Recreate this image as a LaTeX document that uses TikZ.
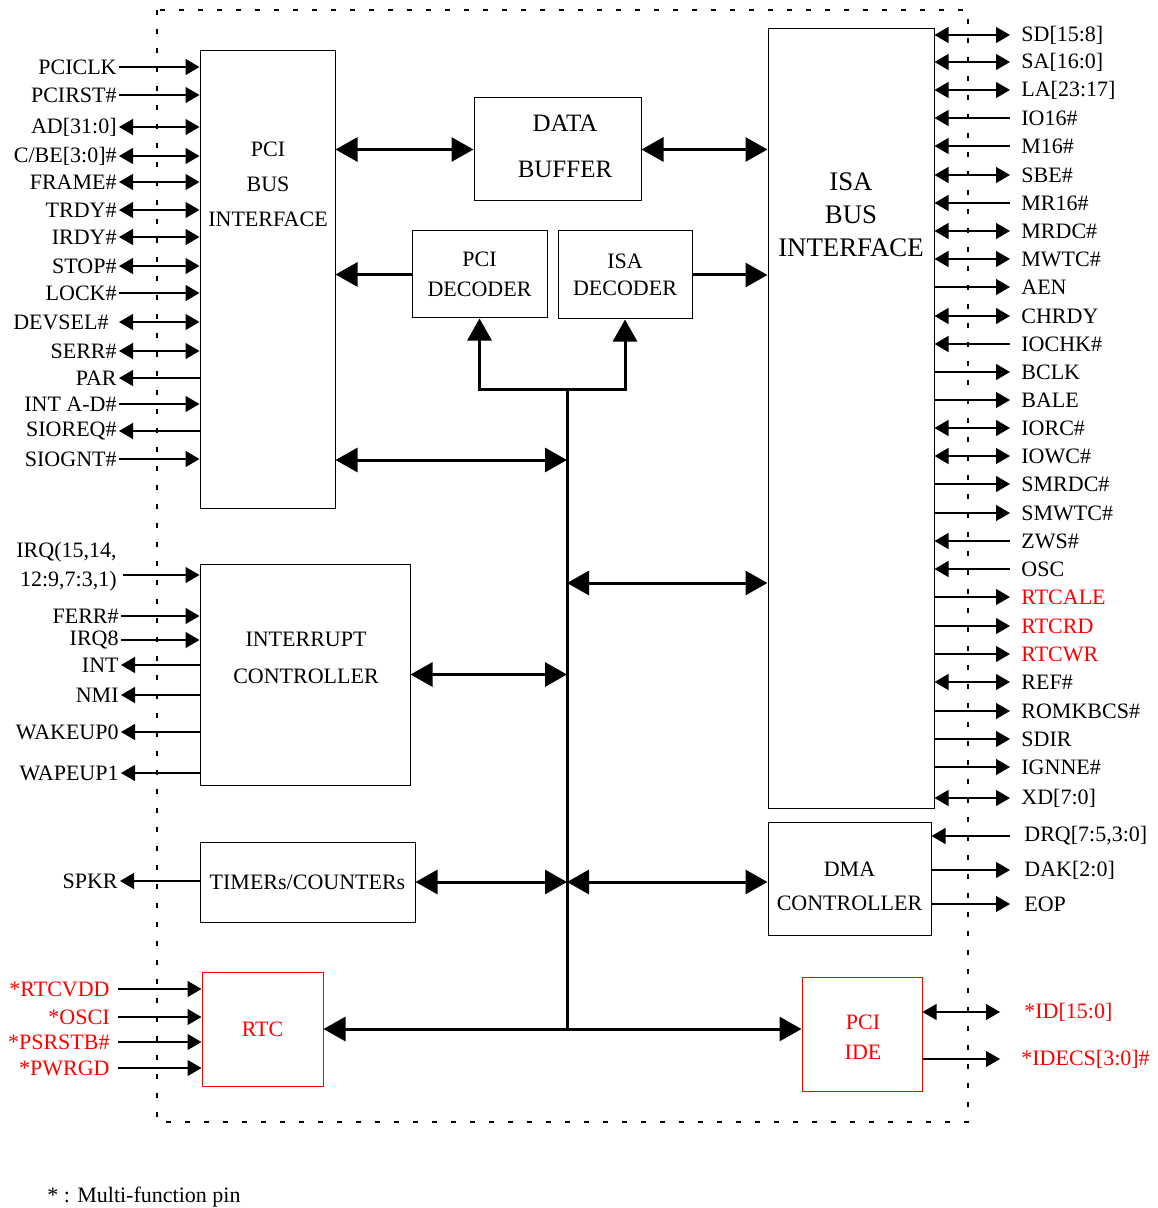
\documentclass[tikz,border=0pt]{standalone}
\usepackage{fontspec}
\setmainfont{Liberation Serif}
\usetikzlibrary{arrows.meta}

\tikzset{
  blk/.style={draw, line width=0.5pt, inner sep=0pt, align=center, font=\fontsize{11}{15}\selectfont},
  redblk/.style={blk, draw=red, text=red},
  lpin/.style={anchor=east, inner sep=1pt, font=\fontsize{11}{13}\selectfont},
  rpin/.style={anchor=west, inner sep=1pt, font=\fontsize{11}{13}\selectfont},
  pinwire/.style={line width=0.6pt},
  pto/.style={pinwire, -{Triangle[length=7pt,width=8pt]}},
  pfrom/.style={pinwire, {Triangle[length=7pt,width=8pt]}-},
  pboth/.style={pinwire, {Triangle[length=7pt,width=8pt]}-{Triangle[length=7pt,width=8pt]}},
  bus/.style={line width=1.5pt},
  busto/.style={bus, -{Triangle[length=11pt,width=12pt]}},
  busboth/.style={bus, {Triangle[length=11pt,width=12pt]}-{Triangle[length=11pt,width=12pt]}},
  border/.style={line width=0.6pt, dash pattern=on 2.5pt off 7pt}
}

\begin{document}
\begin{tikzpicture}
    [x=0.5pt, y=-0.5pt]
    \useasboundingbox (0,0) rectangle (1157,1208);
    % chip outline
    \draw[border] (157,10) rectangle (968,1122);
    % blocks
    \node[blk, minimum width=67.5pt, minimum height=228.5pt] (pci) at (267.5,279.5) {};
    \node[align=center, font=\fontsize{11}{17.5}\selectfont] (pcitxt) at (268,184) {PCI\\BUS\\INTERFACE};
    \node[blk, minimum width=83.5pt, minimum height=51.5pt] (buf) at (557.5,149.5) {};
    \node[align=center, font=\fontsize{12.5}{23}\selectfont] (buftxt) at (565,146) {DATA\\BUFFER};
    \node[blk, minimum width=67.5pt, minimum height=43.5pt] (pcidec) at (479.5,274.5) {PCI\\DECODER};
    \node[blk, minimum width=67pt, minimum height=44pt, font=\fontsize{11}{13.5}\selectfont] (isadec) at (625,275) {ISA\\DECODER};
    \node[blk, minimum width=83pt, minimum height=389.5pt] (isa) at (851,418.5) {};
    \node[align=center, font=\fontsize{13.4}{16.5}\selectfont] (isatxt) at (851,215) {ISA\\BUS\\INTERFACE};
    \node[blk, minimum width=105pt, minimum height=110.5pt] (intc) at (305,674.5) {};
    \node[align=center, font=\fontsize{11}{18.5}\selectfont] (intctxt) at (306,658) {INTERRUPT\\CONTROLLER};
    \node[blk, minimum width=107.5pt, minimum height=40pt] (tmr) at (307.5,882) {TIMERs/COUNTERs};
    \node[blk, minimum width=81.5pt, minimum height=56.5pt] (dma) at (849.5,878.5) {};
    \node[align=center, font=\fontsize{11}{17}\selectfont] (dmatxt) at (849.5,886) {DMA\\CONTROLLER};
    \node[redblk, minimum width=60.5pt, minimum height=57pt] (rtc) at (262.5,1029) {RTC};
    \node[redblk, minimum width=60pt, minimum height=57pt] (ide) at (862,1034) {};
    \node[align=center, text=red, font=\fontsize{11}{15}\selectfont] (idetxt) at (863,1037) {PCI\\IDE};
    % internal bus
    \coordinate (bustop) at (567,389);
    \coordinate (j1) at (567,460);
    \coordinate (j2) at (567,583);
    \draw[bus] (bustop) -- (bustop |- rtc.east);
    \draw[busto] (bustop) -| (pcidec.south);
    \draw[busto] (bustop) -| (isadec.south);
    \draw[busboth] (buf.west -| pci.east) -- (buf.west);
    \draw[busboth] (buf.east) -- (buf.east -| isa.west);
    \draw[busto] (pcidec.west) -- (pcidec.west -| pci.east);
    \draw[busto] (isadec.east) -- (isadec.east -| isa.west);
    \draw[busboth] (j1 -| pci.east) -- (j1);
    \draw[busboth] (j2) -- (j2 -| isa.west);
    \draw[busboth] (intc.east) -- (intc.east -| bustop);
    \draw[busboth] (tmr.east) -- (tmr.east -| bustop);
    \draw[busboth] (tmr.east -| bustop) -- (tmr.east -| dma.west);
    \draw[busboth] (rtc.east) -- (rtc.east -| ide.west);
    % PCI pins
    \node[lpin] (pciclk) at (119,67) {PCICLK}; \draw[pto] (pciclk) -- (pciclk -| pci.west);
    \node[lpin] (pcirst) at (119,95) {PCIRST\#}; \draw[pto] (pcirst) -- (pcirst -| pci.west);
    \node[lpin] (ad) at (119,127) {AD[31:0]}; \draw[pboth] (ad) -- (ad -| pci.west);
    \node[lpin] (cbe) at (119,156) {C/BE[3:0]\#}; \draw[pboth] (cbe) -- (cbe -| pci.west);
    \node[lpin] (frame) at (119,182) {FRAME\#}; \draw[pboth] (frame) -- (frame -| pci.west);
    \node[lpin] (trdy) at (119,210) {TRDY\#}; \draw[pboth] (trdy) -- (trdy -| pci.west);
    \node[lpin] (irdy) at (119,237) {IRDY\#}; \draw[pboth] (irdy) -- (irdy -| pci.west);
    \node[lpin] (stop) at (119,266) {STOP\#}; \draw[pboth] (stop) -- (stop -| pci.west);
    \node[lpin] (lock) at (119,293) {LOCK\#}; \draw[pto] (lock) -- (lock -| pci.west);
    \node[lpin] (devsel) at (111,322) {DEVSEL\#}; \draw[pboth] (devsel -| pciclk.east) -- (devsel -| pci.west);
    \node[lpin] (serr) at (119,351) {SERR\#}; \draw[pboth] (serr) -- (serr -| pci.west);
    \node[lpin] (par) at (119,378) {PAR}; \draw[pfrom] (par) -- (par -| pci.west);
    \node[lpin] (inta) at (119,404) {INT A-D\#}; \draw[pto] (inta) -- (inta -| pci.west);
    \node[lpin] (sioreq) at (119,431) {SIOREQ\#}; \draw[pfrom] (sioreq) -- (sioreq -| pci.west);
    \node[lpin] (siognt) at (119,459) {SIOGNT\#}; \draw[pto] (siognt) -- (siognt -| pci.west);
    % interrupt pins
    \node[lpin, align=right, font=\fontsize{11}{14.5}\selectfont] (irq) at (119,567) {IRQ(15,14,\\12:9,7:3,1)};
    \draw[pto] ([shift={(2pt,-4pt)}]irq.east) coordinate (irqa) -- (irqa -| intc.west);
    \node[lpin] (ferr) at (121,616) {FERR\#}; \draw[pto] (ferr) -- (ferr -| intc.west);
    \node[lpin] (irqe) at (121,640) {IRQ8}; \draw[pto] (irqe) -- (irqe -| intc.west);
    \node[lpin] (int) at (121,665) {INT}; \draw[pfrom] (int) -- (int -| intc.west);
    \node[lpin] (nmi) at (121,695) {NMI}; \draw[pfrom] (nmi) -- (nmi -| intc.west);
    \node[lpin] (wake0) at (121,732) {WAKEUP0}; \draw[pfrom] (wake0) -- (wake0 -| intc.west);
    \node[lpin] (wake1) at (121,773) {WAPEUP1}; \draw[pfrom] (wake1) -- (wake1 -| intc.west);
    \node[lpin] (spkr) at (120,881) {SPKR}; \draw[pfrom] (spkr) -- (spkr -| tmr.west);
    % RTC pins
    \node[lpin, text=red] (rtcvdd) at (112,989) {*RTCVDD}; \draw[pto] ([xshift=3pt]rtcvdd.east) -- (rtcvdd -| rtc.west);
    \node[lpin, text=red] (osci) at (112,1017) {*OSCI}; \draw[pto] ([xshift=3pt]osci.east) -- (osci -| rtc.west);
    \node[lpin, text=red] (psrstb) at (112,1042) {*PSRSTB\#}; \draw[pto] ([xshift=3pt]psrstb.east) -- (psrstb -| rtc.west);
    \node[lpin, text=red] (pwrgd) at (112,1068) {*PWRGD}; \draw[pto] ([xshift=3pt]pwrgd.east) -- (pwrgd -| rtc.west);
    % ISA pins
    \node[rpin] (sd) at (1019,35) {SD[15:8]}; \draw[pboth] (sd -| isa.east) -- ([xshift=-4.5pt]sd.west);
    \node[rpin] (sa) at (1019,62) {SA[16:0]}; \draw[pboth] (sa -| isa.east) -- ([xshift=-4.5pt]sa.west);
    \node[rpin] (la) at (1019,90) {LA[23:17]}; \draw[pboth] (la -| isa.east) -- ([xshift=-4.5pt]la.west);
    \node[rpin] (io16) at (1019,118) {IO16\#}; \draw[pfrom] (io16 -| isa.east) -- ([xshift=-4.5pt]io16.west);
    \node[rpin] (m16) at (1019,146) {M16\#}; \draw[pfrom] (m16 -| isa.east) -- ([xshift=-4.5pt]m16.west);
    \node[rpin] (sbe) at (1019,175) {SBE\#}; \draw[pboth] (sbe -| isa.east) -- ([xshift=-4.5pt]sbe.west);
    \node[rpin] (mr16) at (1019,203) {MR16\#}; \draw[pfrom] (mr16 -| isa.east) -- ([xshift=-4.5pt]mr16.west);
    \node[rpin] (mrdc) at (1019,231) {MRDC\#}; \draw[pboth] (mrdc -| isa.east) -- ([xshift=-4.5pt]mrdc.west);
    \node[rpin] (mwtc) at (1019,259) {MWTC\#}; \draw[pboth] (mwtc -| isa.east) -- ([xshift=-4.5pt]mwtc.west);
    \node[rpin] (aen) at (1019,287) {AEN}; \draw[pto] (aen -| isa.east) -- ([xshift=-4.5pt]aen.west);
    \node[rpin] (chrdy) at (1019,316) {CHRDY}; \draw[pboth] (chrdy -| isa.east) -- ([xshift=-4.5pt]chrdy.west);
    \node[rpin] (iochk) at (1019,344) {IOCHK\#}; \draw[pfrom] (iochk -| isa.east) -- ([xshift=-4.5pt]iochk.west);
    \node[rpin] (bclk) at (1019,372) {BCLK}; \draw[pto] (bclk -| isa.east) -- ([xshift=-4.5pt]bclk.west);
    \node[rpin] (bale) at (1019,400) {BALE}; \draw[pto] (bale -| isa.east) -- ([xshift=-4.5pt]bale.west);
    \node[rpin] (iorc) at (1019,428) {IORC\#}; \draw[pboth] (iorc -| isa.east) -- ([xshift=-4.5pt]iorc.west);
    \node[rpin] (iowc) at (1019,456) {IOWC\#}; \draw[pboth] (iowc -| isa.east) -- ([xshift=-4.5pt]iowc.west);
    \node[rpin] (smrdc) at (1019,484) {SMRDC\#}; \draw[pto] (smrdc -| isa.east) -- ([xshift=-4.5pt]smrdc.west);
    \node[rpin] (smwtc) at (1019,513) {SMWTC\#}; \draw[pto] (smwtc -| isa.east) -- ([xshift=-4.5pt]smwtc.west);
    \node[rpin] (zws) at (1019,541) {ZWS\#}; \draw[pfrom] (zws -| isa.east) -- ([xshift=-4.5pt]zws.west);
    \node[rpin] (osc) at (1019,569) {OSC}; \draw[pfrom] (osc -| isa.east) -- ([xshift=-4.5pt]osc.west);
    \node[rpin, text=red] (rtcale) at (1019,597) {RTCALE}; \draw[pto] (rtcale -| isa.east) -- ([xshift=-4.5pt]rtcale.west);
    \node[rpin, text=red] (rtcrd) at (1019,626) {RTCRD}; \draw[pto] (rtcrd -| isa.east) -- ([xshift=-4.5pt]rtcrd.west);
    \node[rpin, text=red] (rtcwr) at (1019,654) {RTCWR}; \draw[pto] (rtcwr -| isa.east) -- ([xshift=-4.5pt]rtcwr.west);
    \node[rpin] (ref) at (1019,682) {REF\#}; \draw[pboth] (ref -| isa.east) -- ([xshift=-4.5pt]ref.west);
    \node[rpin] (romkb) at (1019,711) {ROMKBCS\#}; \draw[pto] (romkb -| isa.east) -- ([xshift=-4.5pt]romkb.west);
    \node[rpin] (sdir) at (1019,739) {SDIR}; \draw[pto] (sdir -| isa.east) -- ([xshift=-4.5pt]sdir.west);
    \node[rpin] (ignne) at (1019,767) {IGNNE\#}; \draw[pto] (ignne -| isa.east) -- ([xshift=-4.5pt]ignne.west);
    \node[rpin] (xd) at (1019,798) {XD[7:0]}; \draw[pboth] (xd -| isa.east) -- ([xshift=-4.5pt]xd.west);
    % DMA pins
    \node[rpin] (drq) at (1022,836) {DRQ[7:5,3:0]}; \draw[pfrom] (drq -| dma.east) -- ([xshift=-6pt]drq.west);
    \node[rpin] (dak) at (1022,870) {DAK[2:0]}; \draw[pto] (dak -| dma.east) -- ([xshift=-6pt]dak.west);
    \node[rpin] (eop) at (1022,904) {EOP}; \draw[pto] (eop -| dma.east) -- ([xshift=-6pt]eop.west);
    % IDE pins
    \node[rpin, text=red] (idd) at (1022,1012) {*ID[15:0]}; \draw[pboth] (idd -| ide.east) -- ([xshift=-11pt]idd.west);
    \node[rpin, text=red] (idecs) at (1019,1059) {*IDECS[3:0]\#}; \draw[pto] (idecs -| ide.east) -- ([xshift=-9.5pt]idecs.west);
    % note
    \node[anchor=west, inner sep=0pt, font=\fontsize{11}{13}\selectfont] (note) at (47,1197) {* : Multi-function pin};
\end{tikzpicture}
\end{document}
